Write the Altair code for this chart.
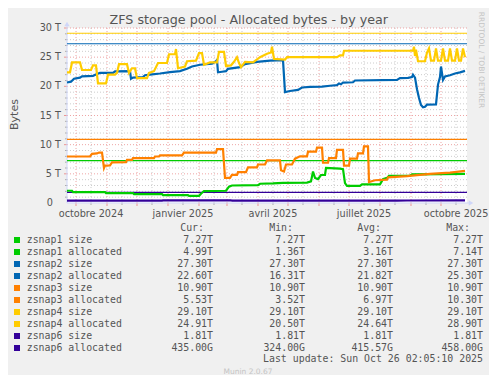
import altair as alt
import pandas as pd

# ---------------- data ----------------
START = pd.Timestamp("2024-09-22")   # left edge of the yearly graph (1 day per pixel)
END = pd.Timestamp("2025-10-27")

# (days since START, terabytes)
zsnap1_alloc = [(0, 2.1), (5, 2.1), (6, 1.87), (38, 1.87), (39, 1.7), (66, 1.7), (67, 1.53),
                (95, 1.53), (96, 1.35), (121, 1.35), (122, 1.23), (132, 1.23), (134, 1.6),
                (137, 2.05), (159, 2.1), (162, 2.8), (165, 3.0), (191, 3.05), (193, 3.3),
                (206, 3.35), (216, 3.45), (240, 3.5), (244, 3.7), (246, 5.4), (248, 4.3),
                (251, 4.1), (254, 4.8), (258, 4.8), (259, 6.0), (273, 5.9), (276, 5.8),
                (278, 3.4), (280, 2.95), (293, 2.95), (295, 3.2), (313, 3.2), (316, 4.1),
                (320, 4.3), (322, 4.66), (343, 4.7), (345, 4.9), (373, 4.95), (398, 5.0)]

zsnap2_alloc = [(0, 20.65), (4, 20.8), (7, 21.3), (13, 21.5), (15, 21.7), (26, 21.8), (30, 22.1),
                (33, 22.3), (46, 22.3), (48, 22.55), (63, 22.6), (64, 21.3), (66, 21.5),
                (76, 21.6), (78, 21.9), (83, 22.0), (93, 22.2), (103, 22.45), (113, 22.6),
                (120, 23.0), (125, 23.4), (133, 23.7), (145, 23.9), (149, 24.3), (150, 24.5),
                (151, 22.4), (155, 22.5), (159, 22.6), (161, 23.0), (173, 23.3), (178, 23.8),
                (190, 24.2), (203, 24.4), (216, 24.5), (218, 19.0), (223, 19.2), (231, 19.4),
                (235, 19.8), (243, 19.9), (255, 19.95), (263, 20.1), (270, 20.2), (272, 20.5),
                (274, 20.35), (276, 20.65), (286, 20.7), (288, 21.0), (330, 21.1), (333, 21.4),
                (341, 21.45), (345, 21.6), (346, 22.0), (348, 21.5), (350, 19.5), (352, 18.0),
                (354, 16.8), (356, 16.4), (358, 16.5), (360, 16.85), (369, 16.9), (371, 20.3),
                (373, 21.6), (374, 23.4), (376, 21.1), (378, 21.7), (383, 21.9), (388, 22.2),
                (393, 22.4), (398, 22.65)]

zsnap3_alloc = [(0, 7.97), (23, 7.97), (25, 8.43), (30, 8.5), (32, 8.65), (35, 8.65), (37, 6.0),
                (38, 6.4), (43, 6.45), (45, 6.95), (59, 7.0), (60, 7.4), (65, 7.4), (66, 7.7),
                (87, 7.7), (88, 7.97), (92, 7.97), (93, 8.15), (115, 8.15), (117, 8.65),
                (149, 8.65), (150, 9.23), (156, 9.23), (158, 4.3), (163, 4.3), (165, 4.83),
                (170, 4.83), (171, 5.3), (179, 5.3), (181, 6.1), (190, 6.1), (191, 6.6),
                (198, 6.6), (200, 7.3), (213, 7.3), (214, 5.6), (217, 5.4), (219, 6.6),
                (225, 6.6), (228, 7.6), (233, 8.0), (240, 8.0), (241, 8.8), (249, 8.8),
                (250, 9.5), (255, 9.5), (256, 6.9), (261, 6.9), (262, 7.7), (269, 7.7),
                (270, 9.1), (276, 9.1), (277, 6.4), (282, 6.4), (283, 7.6), (290, 7.6),
                (291, 8.5), (296, 8.5), (297, 9.7), (301, 9.7), (302, 3.6), (308, 3.9),
                (320, 4.0), (321, 4.4), (340, 4.6), (363, 5.0), (383, 5.2), (398, 5.5)]

zsnap4_alloc = [(0, 22.4), (3, 22.4), (5, 24.1), (13, 24.1), (15, 22.8), (24, 22.8), (26, 23.6),
                (29, 23.6), (31, 20.5), (39, 20.5), (41, 22.0), (48, 22.0), (50, 22.3),
                (52, 23.8), (60, 23.8), (62, 22.3), (65, 23.1), (68, 23.1), (70, 21.4),
                (80, 21.4), (82, 22.3), (87, 22.6), (91, 24.0), (100, 24.0), (102, 25.5),
                (108, 25.5), (109, 26.4), (111, 23.1), (118, 23.4), (120, 24.3), (129, 24.4),
                (132, 25.7), (135, 25.7), (137, 23.7), (143, 24.1), (150, 24.1), (152, 25.9),
                (157, 25.9), (159, 23.5), (164, 23.6), (167, 24.2), (170, 25.0), (172, 24.0),
                (174, 23.3), (178, 24.2), (186, 24.1), (193, 25.0), (200, 25.6), (204, 25.8),
                (205, 26.8), (207, 24.7), (218, 24.6), (220, 25.0), (270, 25.0), (273, 25.3),
                (276, 25.3), (277, 26.1), (346, 26.1), (347, 26.8), (348, 25.2), (349, 26.3),
                (351, 24.3), (358, 24.3), (360, 25.8), (362, 26.5), (364, 24.4), (367, 24.4),
                (369, 26.5), (371, 24.4), (374, 24.4), (376, 26.5), (378, 24.4), (381, 24.4),
                (383, 26.5), (385, 24.4), (388, 24.4), (390, 26.5), (392, 24.4), (394, 24.4),
                (396, 26.5), (398, 25.0)]

zsnap6_alloc = [(0, 0.42), (95, 0.42), (96, 0.458), (164, 0.458), (165, 0.40), (330, 0.40),
                (340, 0.43), (398, 0.435)]

series_names = ["zsnap1", "zsnap2", "zsnap3", "zsnap4", "zsnap6"]
series_colors = ["#00CC00", "#0066B3", "#FF8000", "#FFCC00", "#330099"]
size_vals = [7.27, 27.30, 10.90, 29.10, 1.81]

legend_labels = ["zsnap1 size", "zsnap1 allocated", "zsnap2 size", "zsnap2 allocated",
                 "zsnap3 size", "zsnap3 allocated", "zsnap4 size", "zsnap4 allocated",
                 "zsnap6 size", "zsnap6 allocated"]
cur_vals = ["7.27T", "4.99T", "27.30T", "22.60T", "10.90T", "5.53T", "29.10T", "24.91T", "1.81T", "435.00G"]
min_vals = ["7.27T", "1.36T", "27.30T", "16.31T", "10.90T", "3.52T", "29.10T", "20.50T", "1.81T", "324.00G"]
avg_vals = ["7.27T", "3.16T", "27.30T", "21.82T", "10.90T", "6.97T", "29.10T", "24.64T", "1.81T", "415.57G"]
max_vals = ["7.27T", "7.14T", "27.30T", "25.30T", "10.90T", "10.30T", "29.10T", "28.90T", "1.81T", "458.00G"]
col_headers = ["Cur:", "Min:", "Avg:", "Max:"]

y_tick_vals = [0, 5, 10, 15, 20, 25, 30]
y_tick_labels = ["0", "5 T", "10 T", "15 T", "20 T", "25 T", "30 T"]
x_label_dates = ["2024-10-16", "2025-01-16", "2025-04-16", "2025-07-16", "2025-10-16"]
x_labels = ["octobre 2024", "janvier 2025", "avril 2025", "juillet 2025", "octobre 2025"]

TITLE = "ZFS storage pool - Allocated bytes - by year"
LAST_UPDATE = "Last update: Sun Oct 26 02:05:10 2025"
WATERMARK = "RRDTOOL / TOBI OETIKER"
MUNIN = "Munin 2.0.67"

# ---------------- styling ----------------
SANS = "DejaVu Sans"
MONO = "DejaVu Sans Mono"
TXT = "#555555"
AXIS_COL = "#CFD6F8"
MGRID = "#EB9595"
GRID = "#ABABAB"
W, H = 400, 175

xscale = alt.Scale(domain=[alt.DateTime(year=2024, month=9, date=22),
                           alt.DateTime(year=2025, month=10, date=27)], nice=False)
yscale = alt.Scale(domain=[0, 30], nice=False, zero=False)

# ---------------- tables ----------------
rows = []
for name, color, pts in zip(series_names, series_colors,
                            [zsnap1_alloc, zsnap2_alloc, zsnap3_alloc, zsnap4_alloc, zsnap6_alloc]):
    for d, v in pts:
        rows.append({"series": name, "color": color,
                     "date": START + pd.Timedelta(days=d), "value": v})
alloc_df = pd.DataFrame(rows)
size_df = pd.DataFrame({"series": series_names, "color": series_colors, "value": size_vals})

month_starts = pd.date_range("2024-10-01", "2025-10-01", freq="MS")
mid_months = month_starts + pd.Timedelta(days=15)
vmajor_df = pd.DataFrame({"date": month_starts})
vminor_df = pd.DataFrame({"date": mid_months})
hmajor_df = pd.DataFrame({"v": [v for v in range(5, 31, 5)]})
hminor_df = pd.DataFrame({"v": [v for v in range(1, 30) if v % 5]})

X = lambda f: alt.X(f, scale=xscale, axis=None)
Y = lambda f: alt.Y(f, scale=yscale, axis=None)

hminor = alt.Chart(hminor_df).mark_rule(color=GRID, strokeWidth=1, strokeDash=[1, 2], opacity=0.6).encode(y=Y("v:Q"))
vminor = alt.Chart(vminor_df).mark_rule(color=GRID, strokeWidth=1, strokeDash=[1, 2], opacity=0.6).encode(x=X("date:T"))
hmajor = alt.Chart(hmajor_df).mark_rule(color=MGRID, strokeWidth=1, strokeDash=[1, 2], opacity=0.85).encode(y=Y("v:Q"))
vmajor = alt.Chart(vmajor_df).mark_rule(color=MGRID, strokeWidth=1, strokeDash=[1, 2], opacity=0.85).encode(x=X("date:T"))

# axis ticks
xt_major = alt.Chart(vmajor_df).mark_rule(color=MGRID, strokeWidth=1).encode(
    x=X("date:T"), y=alt.value(H), y2=alt.value(H + 3))
xt_minor = alt.Chart(vminor_df).mark_rule(color=GRID, strokeWidth=1).encode(
    x=X("date:T"), y=alt.value(H), y2=alt.value(H + 2))
yt_major = alt.Chart(hmajor_df).mark_rule(color=MGRID, strokeWidth=1).encode(
    y=Y("v:Q"), x=alt.value(-3), x2=alt.value(0))
yt_minor = alt.Chart(hminor_df).mark_rule(color=GRID, strokeWidth=1).encode(
    y=Y("v:Q"), x=alt.value(-2), x2=alt.value(0))

size_rules = alt.Chart(size_df).mark_rule(strokeWidth=1.2).encode(
    y=Y("value:Q"), color=alt.Color("color:N", scale=None))

lines = alt.Chart(alloc_df).mark_line(strokeWidth=2.2, interpolate="linear").encode(
    x=X("date:T"), y=Y("value:Q"),
    color=alt.Color("color:N", scale=None), detail="series:N")

one = pd.DataFrame({"k": [0]})
yaxis_line = alt.Chart(one).mark_rule(color=AXIS_COL, strokeWidth=1).encode(
    x=alt.value(0), y=alt.value(H), y2=alt.value(-3))
xaxis_line = alt.Chart(one).mark_rule(color=AXIS_COL, strokeWidth=1).encode(
    y=alt.value(H), x=alt.value(0), x2=alt.value(W + 3))
yarrow = alt.Chart(one).mark_point(shape="triangle-up", filled=True, size=28, color=AXIS_COL, opacity=1).encode(
    x=alt.value(0), y=alt.value(-4))
xarrow = alt.Chart(one).mark_point(shape="triangle-right", filled=True, size=28, color=AXIS_COL, opacity=1).encode(
    x=alt.value(W + 4), y=alt.value(H))

# ---------------- text ----------------
def txt(s, x, y, size, font=SANS, color=TXT, align="center", baseline="middle", angle=0):
    return alt.Chart(pd.DataFrame({"t": [s]})).mark_text(
        font=font, fontSize=size, color=color, align=align, baseline=baseline, angle=angle
    ).encode(text="t:N", x=alt.value(x), y=alt.value(y))

title = txt(TITLE, 181.8, -3.7, 12.7, baseline="alphabetic")
ytitle = txt("Bytes", -52.5, 86.5, 11, angle=270)
watermark = txt(WATERMARK, 414, 32, 7.5, color="#C4C4C4", angle=90)
munin = txt(MUNIN, 181, 344, 7.5, color="#C4C4C4")
last_update = txt(LAST_UPDATE, 416, 331, 9.9, font=MONO, align="right")

ylab_df = pd.DataFrame({"v": y_tick_vals, "t": y_tick_labels})
ylabels = alt.Chart(ylab_df).transform_filter("datum.v > 0").mark_text(
    font=SANS, fontSize=9.7, color=TXT, align="right", baseline="middle").encode(
    y=Y("v:Q"), x=alt.value(-6), text="t:N")
ylabel0 = alt.Chart(ylab_df).transform_filter("datum.v == 0").mark_text(
    font=SANS, fontSize=9.7, color=TXT, align="right", baseline="middle").encode(
    y=Y("v:Q"), x=alt.value(-14), text="t:N")

xlab_df = pd.DataFrame({"date": pd.to_datetime(x_label_dates), "t": x_labels})
xlabels = alt.Chart(xlab_df).mark_text(
    font=SANS, fontSize=9.7, color=TXT, align="center", baseline="alphabetic").encode(
    x=X("date:T"), y=alt.value(H + 13.5), text="t:N")

leg_df = pd.DataFrame({"name": legend_labels,
                       "color": [c for c in series_colors for _ in range(2)],
                       "cur": cur_vals, "min": min_vals, "avg": avg_vals, "max": max_vals})
leg_df["row"] = range(len(leg_df))
leg = alt.Chart(leg_df).transform_calculate(ly="212 + 12 * datum.row")
LY = alt.Y("ly:Q", scale=None, axis=None)
leg_sq = leg.mark_square(size=36, opacity=1, strokeWidth=0).encode(
    x=alt.value(-50), y=LY, color=alt.Color("color:N", scale=None))
leg_layers = [leg_sq,
              leg.mark_text(font=MONO, fontSize=9.9, color=TXT, align="left", baseline="middle").encode(
                  x=alt.value(-40.3), y=LY, text="name:N")]
for field, xr in zip(["cur", "min", "avg", "max"], [146, 238, 326, 416]):
    leg_layers.append(leg.mark_text(font=MONO, fontSize=9.9, color=TXT, align="right", baseline="middle").encode(
        x=alt.value(xr), y=LY, text=f"{field}:N"))
hdr_layers = [txt(h, xr, 200, 9.9, font=MONO, align="right")
              for h, xr in zip(col_headers, [137, 226, 314, 403])]

chart = alt.layer(
    hminor, vminor, hmajor, vmajor, xt_major, xt_minor, yt_major, yt_minor,
    yaxis_line, xaxis_line, yarrow, xarrow,
    size_rules, lines,
    title, ytitle, watermark, munin, last_update, ylabels, ylabel0, xlabels,
    *leg_layers, *hdr_layers
).properties(
    width=W, height=H,
    padding={"left": 59, "top": 20, "right": 22, "bottom": 172},
    autosize=alt.AutoSizeParams(type="none"),
    background="#F0F0F0",
).configure_view(fill="white", stroke=None)

chart.save("out.html", embed_options={"renderer": "svg", "actions": False})
